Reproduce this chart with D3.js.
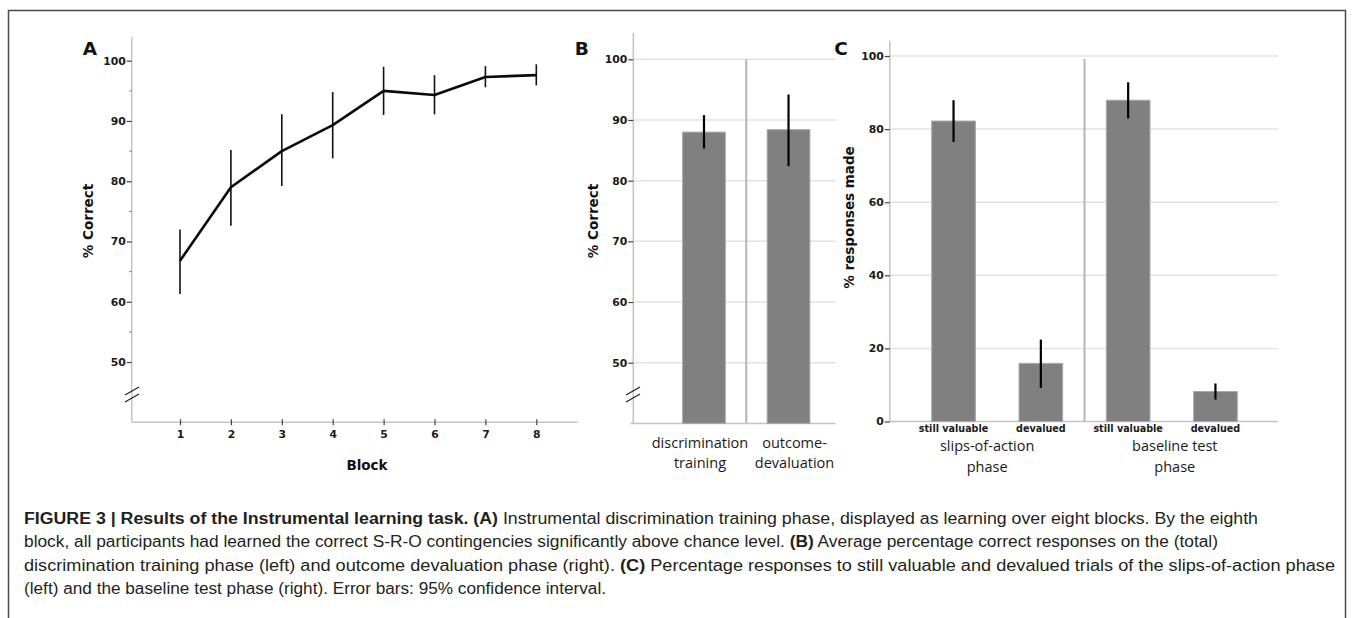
<!DOCTYPE html>
<html>
<head>
<meta charset="utf-8">
<script src="https://cdn.jsdelivr.net/npm/d3@7/dist/d3.min.js"></script>
<style>
  html, body { margin: 0; padding: 0; background: #fff; }
  svg { display: block; }
</style>
</head>
<body>
<svg id="chart" width="1354" height="618"></svg>
<script>
// ---------- DATA ----------
const blocks = [1, 2, 3, 4, 5, 6, 7, 8];
const accuracyA = [66.8, 79.0, 85.0, 89.3, 95.0, 94.3, 97.3, 97.6];
const ciLowA    = [61.3, 72.6, 79.2, 83.8, 91.0, 91.1, 95.6, 95.9];
const ciHighA   = [72.0, 85.2, 91.1, 94.8, 99.0, 97.6, 99.1, 99.4];
const yTicksA = [50, 60, 70, 80, 90, 100];
const yMinorA = [55, 65, 75, 85, 95];

const phasesB = ["discrimination training", "outcome-devaluation"];
const phaseLabelsB = [["discrimination", "training"], ["outcome-", "devaluation"]];
const accuracyB = [88.0, 88.4];
const ciLowB    = [85.3, 82.4];
const ciHighB   = [90.8, 94.2];
const yTicksB = [50, 60, 70, 80, 90, 100];

const trialIdsC = ["sa-still", "sa-dev", "bt-still", "bt-dev"];
const trialLabelsC = ["still valuable", "devalued", "still valuable", "devalued"];
const groupsC = [["slips-of-action", "phase"], ["baseline test", "phase"]];
const responsesC = [82.2, 15.9, 87.9, 8.2];
const ciLowC     = [76.5, 9.2, 82.9, 6.0];
const ciHighC    = [87.9, 22.4, 92.8, 10.4];
const yTicksC = [0, 20, 40, 60, 80, 100];

const captionLines = [
  [["b", "FIGURE 3 | Results of the Instrumental learning task. (A)"], ["n", " Instrumental discrimination training phase, displayed as learning over eight blocks. By the eighth"]],
  [["n", "block, all participants had learned the correct S-R-O contingencies significantly above chance level. "], ["b", "(B)"], ["n", " Average percentage correct responses on the (total)"]],
  [["n", "discrimination training phase (left) and outcome devaluation phase (right). "], ["b", "(C)"], ["n", " Percentage responses to still valuable and devalued trials of the slips-of-action phase"]],
  [["n", "(left) and the baseline test phase (right). Error bars: 95% confidence interval."]]
];
const captionWidths = [1234, 1194, 1311, 582];

// ---------- STYLE ----------
const tickFont = "DejaVu Sans, sans-serif";
const catFont = "'Open Sans', sans-serif";
const axisGrey = "#c4c4c4";
const gridGrey = "#e2e2e2";
const tickDark = "#444";
const barFill = "#808080";
const barStroke = "#a8a8a8";

const svg = d3.select("#chart");

// frame
svg.append("rect").attr("x", 8.5).attr("y", 10.5).attr("width", 1337).attr("height", 700)
  .attr("fill", "none").attr("stroke", "#4a4a4a").attr("stroke-width", 1.5);

function styleAxis(g) {
  g.select(".domain").remove();
  g.selectAll(".tick line").attr("stroke", tickDark).attr("stroke-width", 1.2);
  g.selectAll(".tick text").attr("font-family", tickFont).attr("font-weight", "bold")
    .attr("font-size", 10.8).attr("fill", "#1a1a1a");
}

function breakMark(g, x, y) {
  [0, 7].forEach(dy => {
    g.append("line").attr("x1", x - 7).attr("y1", y + 4 + dy).attr("x2", x + 7).attr("y2", y - 4 + dy)
      .attr("stroke", "#222").attr("stroke-width", 1.3);
  });
}

function panelLetter(x, y, t) {
  svg.append("text").attr("x", x).attr("y", y).attr("text-anchor", "middle")
    .attr("font-family", tickFont).attr("font-weight", "bold").attr("font-size", 18.5)
    .attr("fill", "#111").text(t);
}

function yTitle(x, y, t) {
  svg.append("text").attr("transform", `translate(${x},${y}) rotate(-90)`)
    .attr("text-anchor", "middle").attr("dy", "0.35em")
    .attr("font-family", tickFont).attr("font-weight", "bold").attr("font-size", 13.5)
    .attr("fill", "#111").text(t);
}

// ---------- PANEL A ----------
{
  const axX = 131.7, axTop = 37, xEnd = 577.7;
  const y = d3.scaleLinear().domain([40, 100]).range([422.3, 60.7]);
  const x = d3.scaleLinear().domain([0, 8]).range([129.1, 536.3]);
  const g = svg.append("g");

  g.append("line").attr("x1", axX).attr("x2", axX).attr("y1", axTop).attr("y2", y(40))
    .attr("stroke", axisGrey).attr("stroke-width", 1.5);
  g.append("line").attr("x1", axX).attr("x2", xEnd).attr("y1", y(40)).attr("y2", y(40))
    .attr("stroke", axisGrey).attr("stroke-width", 1.5);

  g.selectAll(".minor").data(yMinorA).join("line")
    .attr("x1", axX - 2.5).attr("x2", axX).attr("y1", d => y(d)).attr("y2", d => y(d))
    .attr("stroke", "#777").attr("stroke-width", 1);

  const ya = g.append("g").attr("transform", `translate(${axX},0)`)
    .call(d3.axisLeft(y).tickValues(yTicksA).tickSize(5).tickPadding(1));
  styleAxis(ya);

  const xa = g.append("g").attr("transform", `translate(0,${y(40)})`)
    .call(d3.axisBottom(x).tickValues(blocks).tickSize(3).tickPadding(5));
  styleAxis(xa);
  xa.selectAll(".tick line").attr("y1", -3).attr("y2", 3);

  breakMark(g, 132, 391);

  g.selectAll(".err").data(blocks).join("line")
    .attr("x1", d => x(d)).attr("x2", d => x(d))
    .attr("y1", (d, i) => y(ciLowA[i])).attr("y2", (d, i) => y(ciHighA[i]))
    .attr("stroke", "#111").attr("stroke-width", 1.6);

  const line = d3.line().x((d, i) => x(d)).y((d, i) => y(accuracyA[i]));
  g.append("path").datum(blocks).attr("d", line).attr("fill", "none")
    .attr("stroke", "#0a0a0a").attr("stroke-width", 2.6).attr("stroke-linejoin", "round");

  panelLetter(90, 55, "A");
  yTitle(88.6, 221, "% Correct");
  g.append("text").attr("x", 367).attr("y", 470).attr("text-anchor", "middle")
    .attr("font-family", tickFont).attr("font-weight", "bold").attr("font-size", 13.5)
    .attr("fill", "#111").text("Block");
}

// ---------- PANEL B ----------
{
  const axX = 633.3, axTop = 33, xEnd = 835.7;
  const y = d3.scaleLinear().domain([40, 100]).range([423.4, 59.3]);
  const x = d3.scaleBand().domain(phasesB).range([661.5, 831]).paddingInner(0.495).paddingOuter(0.25);
  const g = svg.append("g");

  g.selectAll(".grid").data(yTicksB).join("line")
    .attr("x1", axX).attr("x2", xEnd).attr("y1", d => y(d)).attr("y2", d => y(d))
    .attr("stroke", gridGrey).attr("stroke-width", 1.5);

  const sepX = (x(phasesB[0]) + x(phasesB[1]) + x.bandwidth()) / 2;
  g.append("line").attr("x1", sepX).attr("x2", sepX).attr("y1", y(100)).attr("y2", y(40))
    .attr("stroke", "#b5b5b5").attr("stroke-width", 2);

  g.append("line").attr("x1", axX).attr("x2", axX).attr("y1", axTop).attr("y2", y(40))
    .attr("stroke", axisGrey).attr("stroke-width", 1.5);
  g.append("line").attr("x1", axX - 3).attr("x2", xEnd).attr("y1", y(40)).attr("y2", y(40))
    .attr("stroke", axisGrey).attr("stroke-width", 1.5);

  const ya = g.append("g").attr("transform", `translate(${axX},0)`)
    .call(d3.axisLeft(y).tickValues(yTicksB).tickSize(5).tickPadding(1));
  styleAxis(ya);

  g.selectAll(".bar").data(phasesB).join("rect")
    .attr("x", d => x(d)).attr("width", x.bandwidth())
    .attr("y", (d, i) => y(accuracyB[i])).attr("height", (d, i) => y(40) - y(accuracyB[i]))
    .attr("fill", barFill).attr("stroke", barStroke).attr("stroke-width", 1);

  g.selectAll(".err").data(phasesB).join("line")
    .attr("x1", d => x(d) + x.bandwidth() / 2).attr("x2", d => x(d) + x.bandwidth() / 2)
    .attr("y1", (d, i) => y(ciLowB[i])).attr("y2", (d, i) => y(ciHighB[i]))
    .attr("stroke", "#000").attr("stroke-width", 2.2);

  breakMark(g, 633, 391);

  phasesB.forEach((p, i) => {
    const t = g.append("text").attr("text-anchor", "middle")
      .attr("font-family", catFont).attr("font-size", 14.5).attr("fill", "#1a1a1a");
    phaseLabelsB[i].forEach((ln, j) => {
      t.append("tspan").attr("x", x(p) + x.bandwidth() / 2 + (i === 0 ? -4 : 6)).attr("y", 448 + j * 20).text(ln);
    });
  });

  panelLetter(581.7, 55, "B");
  yTitle(593.3, 221, "% Correct");
}

// ---------- PANEL C ----------
{
  const axX = 889.8, axTop = 40.7, xEnd = 1278;
  const y = d3.scaleLinear().domain([0, 100]).range([421.5, 56]);
  const x = d3.scaleBand().domain(trialIdsC).range([909.9, 1259.1]).paddingInner(0.5).paddingOuter(0.25);
  const g = svg.append("g");

  g.selectAll(".grid").data(yTicksC.filter(d => d > 0)).join("line")
    .attr("x1", axX).attr("x2", xEnd).attr("y1", d => y(d)).attr("y2", d => y(d))
    .attr("stroke", gridGrey).attr("stroke-width", 1.5);

  const sepX = (x(trialIdsC[1]) + x(trialIdsC[2]) + x.bandwidth()) / 2;
  g.append("line").attr("x1", sepX).attr("x2", sepX).attr("y1", 59).attr("y2", y(0))
    .attr("stroke", "#b5b5b5").attr("stroke-width", 2);

  g.append("line").attr("x1", axX).attr("x2", axX).attr("y1", axTop).attr("y2", y(0))
    .attr("stroke", axisGrey).attr("stroke-width", 1.5);
  g.append("line").attr("x1", axX).attr("x2", xEnd).attr("y1", y(0)).attr("y2", y(0))
    .attr("stroke", axisGrey).attr("stroke-width", 1.5);

  const ya = g.append("g").attr("transform", `translate(${axX},0)`)
    .call(d3.axisLeft(y).tickValues(yTicksC).tickSize(5).tickPadding(1));
  styleAxis(ya);

  g.selectAll(".bar").data(trialIdsC).join("rect")
    .attr("x", d => x(d)).attr("width", x.bandwidth())
    .attr("y", (d, i) => y(responsesC[i])).attr("height", (d, i) => y(0) - y(responsesC[i]))
    .attr("fill", barFill).attr("stroke", barStroke).attr("stroke-width", 1);

  g.selectAll(".err").data(trialIdsC).join("line")
    .attr("x1", d => x(d) + x.bandwidth() / 2).attr("x2", d => x(d) + x.bandwidth() / 2)
    .attr("y1", (d, i) => y(ciLowC[i])).attr("y2", (d, i) => y(ciHighC[i]))
    .attr("stroke", "#000").attr("stroke-width", 2.2);

  g.selectAll(".tlab").data(trialIdsC).join("text")
    .attr("x", d => x(d) + x.bandwidth() / 2).attr("y", 432).attr("text-anchor", "middle")
    .attr("font-family", tickFont).attr("font-weight", "bold").attr("font-size", 9.6)
    .attr("fill", "#1a1a1a").text((d, i) => trialLabelsC[i]);

  const groupX = [ (axX + sepX) / 2, (x(trialIdsC[2]) + x(trialIdsC[3]) + x.bandwidth()) / 2 + 3 ];
  groupsC.forEach((lines, i) => {
    const t = g.append("text").attr("text-anchor", "middle")
      .attr("font-family", catFont).attr("font-size", 14.5).attr("fill", "#1a1a1a");
    lines.forEach((ln, j) => {
      t.append("tspan").attr("x", groupX[i]).attr("y", 451 + j * 21).text(ln);
    });
  });

  panelLetter(841, 55, "C");
  yTitle(849.6, 217.5, "% responses made");
}

// ---------- CAPTION ----------
{
  const cap = svg.append("g");
  captionLines.forEach((parts, i) => {
    const t = cap.append("text").attr("x", 24).attr("y", 524 + i * 23.3)
      .attr("font-family", "'Liberation Sans', Arial, sans-serif")
      .attr("font-size", 16).attr("fill", "#231f20")
      .attr("textLength", captionWidths[i]).attr("lengthAdjust", "spacingAndGlyphs");
    parts.forEach(([w, s]) => {
      t.append("tspan").attr("font-weight", w === "b" ? "bold" : "normal").text(s);
    });
  });
}
</script>
</body>
</html>
